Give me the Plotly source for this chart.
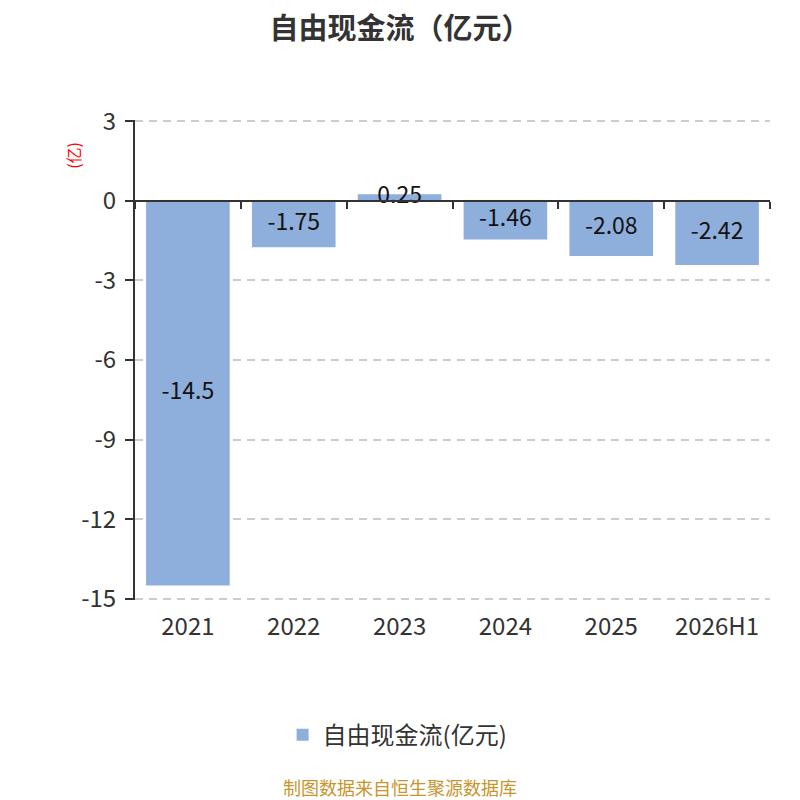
import plotly.graph_objects as go

categories = ["2021", "2022", "2023", "2024", "2025", "2026H1"]
values = [-14.5, -1.75, 0.25, -1.46, -2.08, -2.42]
labels = ["-14.5", "-1.75", "0.25", "-1.46", "-2.08", "-2.42"]
y_ticks = [3, 0, -3, -6, -9, -12, -15]
y_tick_text = ["3", "0", "-3", "-6", "-9", "-12", "-15"]

font_family = "Noto Sans CJK SC"
bar_color = "#8eaedb"

fig = go.Figure()

fig.add_trace(go.Bar(
    x=categories, y=values,
    name="自由现金流(亿元)",
    marker=dict(color=bar_color, line=dict(width=0)),
    width=0.79,
    hoverinfo="x+y",
))

# value labels sit in the middle of each bar
fig.add_trace(go.Scatter(
    x=categories, y=[v / 2 for v in values],
    mode="text", text=labels,
    textfont=dict(size=23, color="#111111", family=font_family),
    showlegend=False, hoverinfo="skip",
))

# note: the page body adds an 8px offset, margins account for that
fig.update_layout(
    width=800, height=800,
    paper_bgcolor="white", plot_bgcolor="white",
    margin=dict(l=127, r=38, t=112, b=208),
    font=dict(family=font_family, color="#333333"),
    title=dict(text="<b>自由现金流（亿元）</b>", x=0.49, xref="container", xanchor="center",
               y=0.974, yref="container", yanchor="middle",
               font=dict(size=29, color="#333333", family=font_family)),
    showlegend=True,
    legend=dict(orientation="h", xref="container", yref="container",
                x=0.487, xanchor="center", y=0.091, yanchor="middle",
                font=dict(size=24, color="#333333", family=font_family)),
    xaxis=dict(type="category", categoryorder="array", categoryarray=categories,
               range=[-0.5, 5.5], showline=False, showgrid=False, ticks="",
               tickfont=dict(size=24, color="#333333"), ticklabelstandoff=10),
    xaxis2=dict(type="category", categoryorder="array", categoryarray=categories,
                range=[-0.5, 5.5], overlaying="x", anchor="free", side="bottom",
                position=15.05 / 18.1, showline=True, linecolor="#333333", linewidth=2,
                ticks="outside", tickson="boundaries", ticklen=7, tickwidth=2,
                tickcolor="#333333", showticklabels=False, showgrid=False),
    yaxis=dict(range=[-15.05, 3.05], tickvals=y_ticks, ticktext=y_tick_text,
               showline=True, linecolor="#333333",
               linewidth=2, ticks="outside", ticklen=8, tickwidth=2, tickcolor="#333333",
               showgrid=True, gridcolor="#cccccc", griddash="8px,6px", gridwidth=1.5,
               zeroline=False, ticklabelstandoff=4,
               tickfont=dict(size=24, color="#333333")),
    bargap=0.21,
)

fig.add_trace(go.Scatter(x=categories, y=[0] * len(categories), xaxis="x2",
                         mode="markers", marker=dict(opacity=0),
                         showlegend=False, hoverinfo="skip"))

fig.add_annotation(text="(亿)", textangle=-90, xref="paper", yref="paper",
                   x=-0.098, y=0.927, xanchor="center", yanchor="middle",
                   showarrow=False,
                   font=dict(size=16, color="red", family=font_family))

fig.add_annotation(text="制图数据来自恒生聚源数据库", xref="paper", yref="paper",
                   x=0.417, y=-0.39, xanchor="center", yanchor="middle",
                   showarrow=False,
                   font=dict(size=18, color="#c8952c", family=font_family))

fig.write_html("out.html")
